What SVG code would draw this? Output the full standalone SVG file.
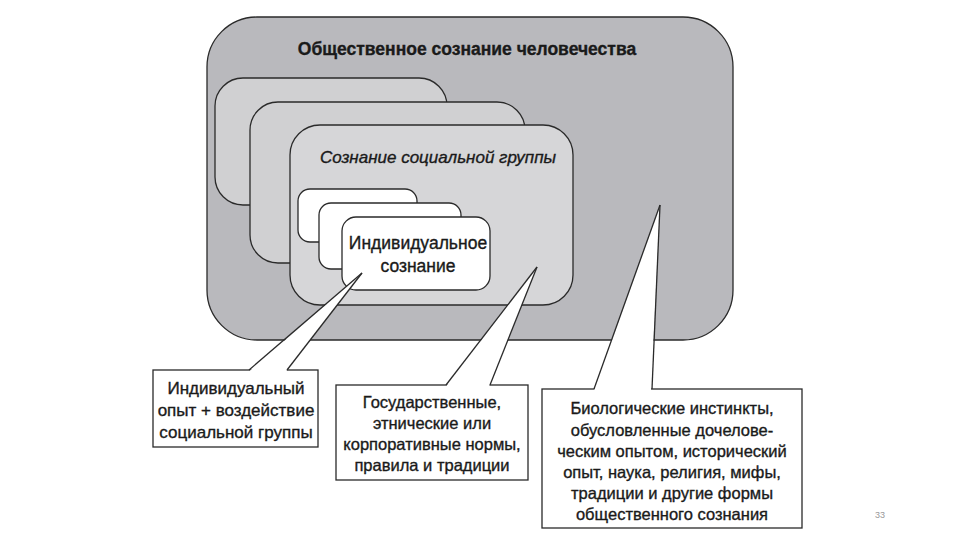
<svg xmlns="http://www.w3.org/2000/svg" width="960" height="540" viewBox="0 0 960 540">
<style>
.ln{stroke:#2a2a2a;stroke-width:1.3;fill:none}
.shape{stroke:#2a2a2a;stroke-width:1.3}
.t{font-family:"Liberation Sans",Arial,sans-serif;fill:#1a1a1a;text-anchor:middle;stroke:#1a1a1a;stroke-width:0.35}
.c{font-size:16.5px}
.box{fill:#ffffff;stroke:#2a2a2a;stroke-width:1.3}
.w{fill:#ffffff;stroke:none}
</style>
<rect width="960" height="540" fill="#ffffff"/>
<g id="humanity">
<rect class="shape" x="207" y="17" width="526" height="323" rx="50" fill="#b9b9bd"/>
<text class="t" x="467" y="55" font-size="17.5" font-weight="bold" stroke-width="0">Общественное сознание человечества</text>
</g>
<g id="layer1"><rect class="shape" x="215" y="78" width="232" height="127" rx="28" fill="#d0d0d2"/></g>
<g id="layer2"><rect class="shape" x="250" y="102" width="275" height="161" rx="28" fill="#d0d0d2"/></g>
<g id="social-group">
<rect class="shape" x="290" y="125" width="283" height="180" rx="30" fill="#d6d6d8"/>
<text class="t" x="438" y="163" font-size="17" font-style="italic">Сознание социальной группы</text>
</g>
<g id="ind1"><rect class="box" x="298" y="189" width="119" height="53" rx="12"/></g>
<g id="ind2"><rect class="box" x="319" y="203" width="142" height="66" rx="12"/></g>
<g id="individual">
<rect class="box" x="342" y="217" width="148" height="73" rx="14"/>
<text class="t" font-size="17.5" x="418" y="249">Индивидуальное</text>
<text class="t" font-size="17.5" x="418" y="272">сознание</text>
</g>
<g id="callout1">
<rect class="box" x="153" y="370" width="165" height="77"/>
<text class="t" font-size="17" x="236" y="394">Индивидуальный</text>
<text class="t" font-size="17" x="236" y="416">опыт + воздействие</text>
<text class="t" font-size="17" x="236" y="438">социальной группы</text>
</g>
<g id="callout2">
<rect class="box" x="336" y="385" width="192" height="95"/>
<text class="t c" x="432" y="408">Государственные,</text>
<text class="t c" x="432" y="429">этнические или</text>
<text class="t c" x="432" y="450">корпоративные нормы,</text>
<text class="t c" x="432" y="471">правила и традиции</text>
</g>
<g id="callout3">
<rect class="box" x="542" y="389" width="260" height="139"/>
<text class="t c" x="672" y="414">Биологические инстинкты,</text>
<text class="t c" x="672" y="436">обусловленные дочелове-</text>
<text class="t c" x="672" y="457">ческим опытом, исторический</text>
<text class="t c" x="672" y="478">опыт, наука, религия, мифы,</text>
<text class="t c" x="672" y="499">традиции и другие формы</text>
<text class="t c" x="672" y="520">общественного сознания</text>
</g>
<g id="connectors">
<polygon class="w" points="362,273 249,371.5 286,371.5"/>
<line class="ln" x1="362" y1="273" x2="249" y2="370"/>
<line class="ln" x1="362" y1="273" x2="287" y2="370"/>
<polygon class="w" points="537,267 446,386.5 489,386.5"/>
<line class="ln" x1="537" y1="267" x2="446" y2="385"/>
<line class="ln" x1="537" y1="267" x2="490" y2="385"/>
<polygon class="w" points="660,205 594,390.5 651,390.5"/>
<line class="ln" x1="660" y1="205" x2="594" y2="389"/>
<line class="ln" x1="660" y1="205" x2="652" y2="389"/>
</g>
<text x="880" y="518" font-family="Liberation Sans,Arial,sans-serif" font-size="9" fill="#999999" text-anchor="middle">33</text>
</svg>
